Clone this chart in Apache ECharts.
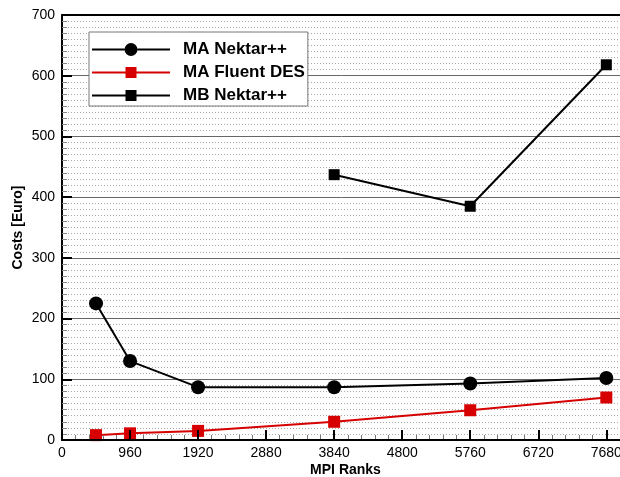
<!DOCTYPE html>
<html>
<head>
<meta charset="utf-8">
<script src="https://cdn.jsdelivr.net/npm/echarts@6/dist/echarts.min.js"></script>
<style>
  html, body { margin: 0; padding: 0; background: #fff; }
  #chart { width: 620px; height: 477px; }
</style>
</head>
<body>
<div id="chart"></div>
<script>
// MPI rank counts of the runs
const ranks = [480, 960, 1920, 3840, 5760, 7680];
const mbRanks = [3840, 5760, 7680];

// Costs in Euro per configuration
const maNektar = [225, 130, 87, 87, 93, 102];
const maFluent = [8, 11, 15, 30, 49, 70];
const mbNektar = [437, 385, 618];

// Axis ticks
const xTicks = [0, 960, 1920, 2880, 3840, 4800, 5760, 6720, 7680];
const yTicks = [0, 100, 200, 300, 400, 500, 600, 700];

const seriesNames = ['MA Nektar++', 'MA Fluent DES', 'MB Nektar++'];

const FONT = '"Liberation Sans", Arial, Helvetica, sans-serif';
const RED = '#d60000';

const pairs = (xs, ys) => xs.map((x, i) => [x, ys[i]]);

// Legend icons: line with the marker in the middle
const circleIcon = 'path://M0,6.5h32.5v2h-32.5z M45.5,6.5h32.5v2h-32.5z M32.5,7.5a6.5,6.5 0 1,0 13,0a6.5,6.5 0 1,0 -13,0z';
const squareIcon = 'path://M0,6.5h33.5v2h-33.5z M44.5,6.5h33.5v2h-33.5z M33.5,2h11v11h-11z';

const xStep = xTicks[1] - xTicks[0];
const yStep = yTicks[1] - yTicks[0];
const X_MAX = 8000;

const chart = echarts.init(document.getElementById('chart'), null, { renderer: 'canvas' });

chart.setOption({
  animation: false,
  backgroundColor: '#fff',
  textStyle: { fontFamily: FONT },
  grid: {
    left: 62, top: 15, bottom: 37, right: -9,
    containLabel: false, outerBoundsMode: 'none'
  },
  legend: {
    orient: 'vertical',
    left: 89,
    top: 32,
    padding: [9, 3, 2, 3],
    backgroundColor: '#fff',
    borderColor: '#777',
    borderWidth: 1,
    itemWidth: 78,
    itemHeight: 14,
    itemGap: 6,
    selectedMode: false,
    textStyle: {
      fontFamily: FONT, fontSize: 17, fontWeight: 'bold', color: '#000',
      lineHeight: 15, padding: [0, 0, 0, 8]
    },
    data: [
      { name: seriesNames[0], icon: circleIcon, itemStyle: { color: '#000' } },
      { name: seriesNames[1], icon: squareIcon, itemStyle: { color: RED } },
      { name: seriesNames[2], icon: squareIcon, itemStyle: { color: '#000' } }
    ]
  },
  xAxis: [
    {
      type: 'value', position: 'bottom', z: 10,
      min: xTicks[0], max: X_MAX, interval: xStep,
      name: 'MPI Ranks', nameLocation: 'middle', nameGap: 23, nameMoveOverlap: false,
      nameTextStyle: { fontFamily: FONT, fontSize: 14, fontWeight: 'bold', color: '#000' },
      axisLine: { show: true, onZero: false, lineStyle: { color: '#000', width: 2 } },
      axisTick: { show: true, inside: true, length: 10, lineStyle: { color: '#000', width: 2 } },
      axisLabel: {
        fontFamily: FONT, fontSize: 14, color: '#000', margin: 6,
        showMaxLabel: false, formatter: v => String(v)
      },
      splitLine: { show: false }
    },
    {
      // minor ticks along the bottom edge
      type: 'value', position: 'bottom', z: 9,
      min: xTicks[0], max: X_MAX, interval: xStep / 5,
      axisLine: { show: false },
      axisTick: { show: true, inside: true, length: 5, lineStyle: { color: '#777', width: 1 } },
      axisLabel: { show: false },
      splitLine: { show: false }
    },
    {
      // top frame line
      type: 'value', position: 'top', z: 10,
      min: xTicks[0], max: X_MAX,
      axisLine: { show: true, onZero: false, lineStyle: { color: '#000', width: 2 } },
      axisTick: { show: false },
      axisLabel: { show: false },
      splitLine: { show: false }
    }
  ],
  yAxis: {
    type: 'value', z: 1,
    min: yTicks[0], max: yTicks[yTicks.length - 1], interval: yStep,
    name: 'Costs [Euro]', nameLocation: 'middle', nameGap: 37, nameMoveOverlap: false,
    nameTextStyle: { fontFamily: FONT, fontSize: 14, fontWeight: 'bold', color: '#000' },
    axisLine: { show: true, onZero: false, lineStyle: { color: '#000', width: 2 } },
    axisTick: { show: true, inside: true, length: 10, lineStyle: { color: '#000', width: 2 } },
    minorTick: { show: true, splitNumber: 10, length: 5, lineStyle: { color: '#888', width: 1 } },
    axisLabel: { fontFamily: FONT, fontSize: 14, color: '#000', margin: 7, formatter: v => String(v) },
    splitLine: { show: true, lineStyle: { color: '#666', width: 1 } },
    minorSplitLine: { show: true, lineStyle: { color: '#aaa', width: 1, type: [1, 2] } }
  },
  series: [
    {
      name: seriesNames[0], type: 'line', z: 3,
      data: pairs(ranks, maNektar),
      symbol: 'circle', symbolSize: 14,
      lineStyle: { color: '#000', width: 2 },
      itemStyle: { color: '#000' }
    },
    {
      name: seriesNames[1], type: 'line', z: 3,
      data: pairs(ranks, maFluent),
      symbol: 'rect', symbolSize: 12,
      lineStyle: { color: RED, width: 2 },
      itemStyle: { color: RED }
    },
    {
      name: seriesNames[2], type: 'line', z: 3,
      data: pairs(mbRanks, mbNektar),
      symbol: 'rect', symbolSize: 11,
      lineStyle: { color: '#000', width: 2 },
      itemStyle: { color: '#000' }
    }
  ]
});
</script>
</body>
</html>
